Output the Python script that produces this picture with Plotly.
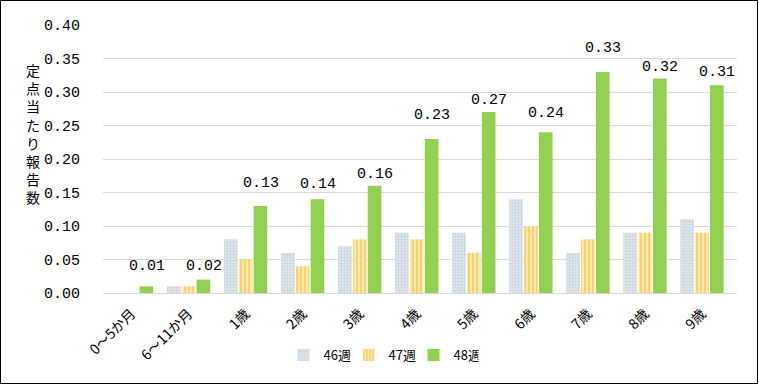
import plotly.graph_objects as go

categories = ["0～5か月", "6～11か月", "1歳", "2歳", "3歳", "4歳", "5歳", "6歳", "7歳", "8歳", "9歳"]
w46 = [0.00, 0.01, 0.08, 0.06, 0.07, 0.09, 0.09, 0.14, 0.06, 0.09, 0.11]
w47 = [0.00, 0.01, 0.05, 0.04, 0.08, 0.08, 0.06, 0.10, 0.08, 0.09, 0.09]
w48 = [0.01, 0.02, 0.13, 0.14, 0.16, 0.23, 0.27, 0.24, 0.33, 0.32, 0.31]
y_title = "定点当たり報告数"

# label gap (px) above each 48週 bar, as placed in the original chart
label_gap = [13, 6, 15, 8, 4, 16, 5, 12, 16, 4, 6]

FONT = "Noto Sans CJK JP"
NUMFONT = "Liberation Mono, monospace"

W, H = 759, 385
L, R, T, B = 103, 22, 25, 92
pw, ph = W - L - R, H - T - B
BARGAP, GROUPGAP = 0.22, 0.08
slot = pw / len(categories) * (1 - BARGAP) / 3

fig = go.Figure()
fig.add_trace(go.Bar(
    x=categories, y=w46, name="46週",
    marker=dict(color="white", line=dict(width=0),
                pattern=dict(shape=".", fgcolor="#A9BCCB", bgcolor="#E4EBF0", size=3, solidity=0.5)),
))
fig.add_trace(go.Bar(
    x=categories, y=w47, name="47週",
    marker=dict(color="white", line=dict(width=0),
                pattern=dict(shape="|", fgcolor="#EEB000", bgcolor="#FFF6D8", size=4, solidity=0.7)),
))
fig.add_trace(go.Bar(
    x=categories, y=w48, name="48週",
    marker=dict(color="#92D050", line=dict(width=0)),
))

annotations = []
for cat, v, g in zip(categories, w48, label_gap):
    annotations.append(dict(
        x=cat, y=v, xref="x", yref="y", text=f"{v:.2f}", showarrow=False,
        xanchor="center", yanchor="middle", xshift=slot, yshift=g + 7,
        font=dict(family=NUMFONT, size=15, color="#000000"),
    ))
annotations.append(dict(
    text="<br>".join(list(y_title)), xref="paper", yref="paper",
    x=(33 - L) / pw, y=(T + ph - 133) / ph, xanchor="center", yanchor="middle",
    showarrow=False, font=dict(family=FONT, size=14), align="center",
))

fig.update_layout(
    width=W, height=H,
    margin=dict(l=L, r=R, t=T, b=B, autoexpand=False),
    paper_bgcolor="white", plot_bgcolor="white",
    barmode="group", bargap=BARGAP, bargroupgap=GROUPGAP,
    font=dict(family=FONT, size=13, color="#000000"),
    showlegend=True,
    legend=dict(orientation="h", x=(381 - L) / pw, xanchor="center",
                y=(T + ph - 355) / ph, yanchor="middle",
                font=dict(family=FONT, size=13), itemwidth=30,
                entrywidth=20, entrywidthmode="pixels",
                traceorder="normal"),
    xaxis=dict(tickangle=-45, showgrid=False, showline=True, linecolor="#D9D9D9",
               ticks="", automargin=False, ticklabelstandoff=6,
               tickfont=dict(family=FONT, size=14)),
    yaxis=dict(range=[0, 0.40], dtick=0.05, tickformat=".2f", showgrid=True,
               gridcolor="#D9D9D9", gridwidth=1, zeroline=False, showline=False,
               ticks="", automargin=False, ticklabelstandoff=22,
               tickfont=dict(family=NUMFONT, size=15)),
    annotations=annotations,
    shapes=[dict(type="rect", xref="paper", yref="paper",
                 x0=(0.5 - L) / pw, x1=(W - 1.5 - L) / pw,
                 y0=(T + ph - (H - 1.5)) / ph, y1=(T + ph - 0.5) / ph,
                 line=dict(color="#000000", width=1), fillcolor="rgba(0,0,0,0)")],
)

fig.write_html("out.html", config={"displayModeBar": False},
               post_script="document.body.style.margin='0';")
